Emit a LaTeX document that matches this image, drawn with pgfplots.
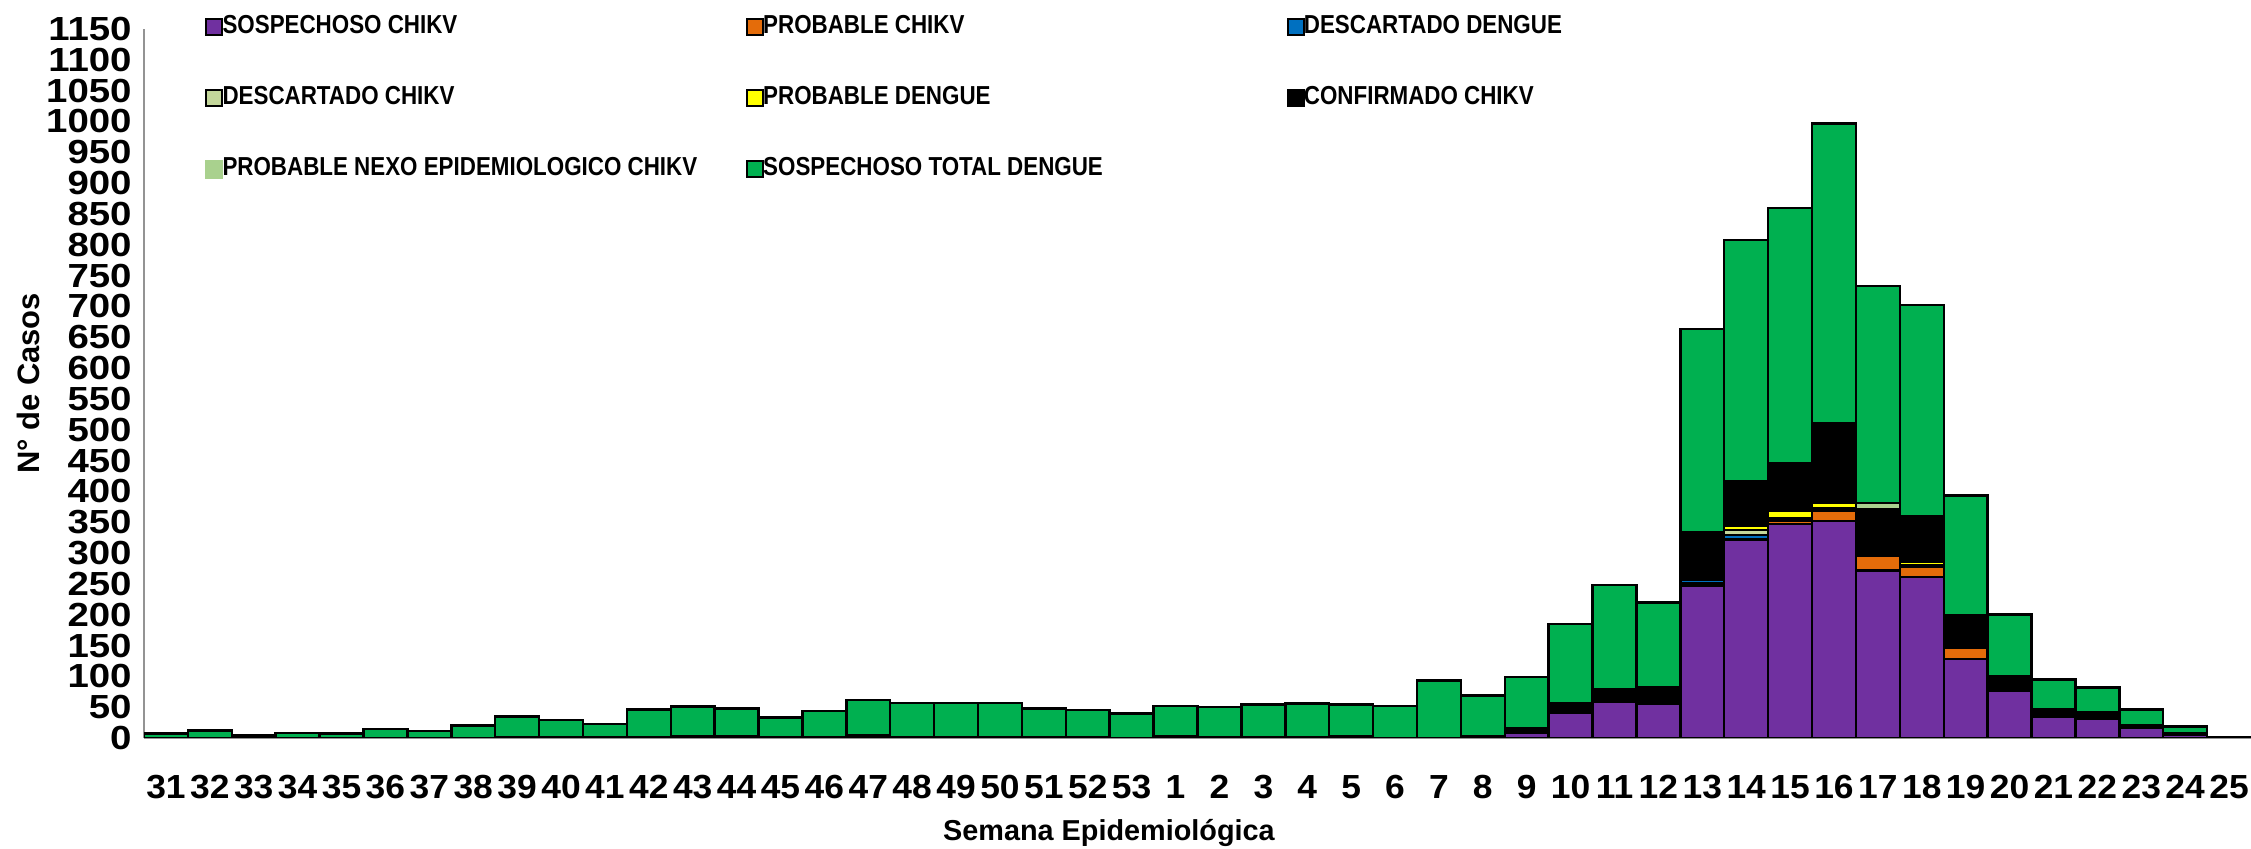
\documentclass[border=0pt]{standalone}
\usepackage{fontspec}
\setmainfont{Liberation Sans}
\newfontfamily\ytickfont{Liberation Sans}[FakeStretch=1.15]
\newfontfamily\xtickfont{Liberation Sans}[FakeStretch=1.06]
\newfontfamily\legfont{Liberation Sans}[FakeStretch=0.86]
\usepackage{pgfplots}
\usepackage{pgfplotstable}
\pgfplotsset{compat=1.18}

\definecolor{cP}{HTML}{7030A0}
\definecolor{cO}{HTML}{E46C0A}
\definecolor{cB}{HTML}{0070C0}
\definecolor{cDC}{HTML}{C4D79B}
\definecolor{cY}{HTML}{FFFF00}
\definecolor{cK}{HTML}{000000}
\definecolor{cN}{HTML}{A9D18E}
\definecolor{cG}{HTML}{00B050}

\newcommand{\legtxt}[1]{\makebox[52.1mm][l]{\hspace{-0.15mm}#1}}

\pgfplotstableread{
x  P   O  B   DC  Y  K   N  G
0  0   0  0   0   0  0   0  7
1  0   0  0   0   0  0   0  12
2  0   0  0   0   0  0   0  4
3  0   0  0   0   0  0   0  8
4  0   0  0   0   0  0   0  7
5  0   0  0   0   0  0   0  15
6  0   0  0   0   0  0   0  11
7  0   0  0   0   0  0   0  20
8  0   0  0   0   0  2   0  33
9  0   0  0   0   0  1   0  28
10 0   0  0   0   0  1   0  22
11 0   0  0   0   0  1   0  45
12 0   0  0   0   2  1   0  48
13 0   0  0   0   0  3   0  45
14 0   0  0   0   0  1   0  32
15 0   0  0   0   0  1   0  43
16 0   0  1   0   0  3   0  58
17 0   0  0   0   0  1   0  56
18 0   0  0   0   0  2   0  55
19 0   0  0   0   0  1   0  56
20 0   0  0   0   0  1   0  47
21 0   0  0   0   0  2   0  43
22 0   0  0   0   0  0   0  40
23 0   0  0   0   0  3   0  49
24 0   0  0   0   0  1   0  49
25 0   0  0   0   0  2   0  52
26 0   0  0   0   0  2   0  54
27 0   0  0   0   0  3   0  51
28 0   0  0   0   0  0   0  52
29 0   0  0   0   0  0   0  93
30 0   0  0   0   0  3   0  66
31 8   0  0   0   0  8   0  83
32 41  0  4   0   0  11  0  129
33 58  0  3   1   4  13  0  169
34 55  1  2   0   4  20  0  138
35 247 4  6   5   5  65  2  329
36 322 1  6   8   8  70  2  391
37 347 6  2   2   12 77  0  414
38 352 16 2.5 2.5 8  127 3  486
39 272 23 0   0   1  75  10 352
40 261 16 2   2   5  73  0  343
41 128 18 1   0   0  52  0  194
42 76  2  0   0   0  22  0  100
43 35  3  0   0   0  9   0  48
44 31  0  0   0   0  11  0  40
45 17  0  0   0   0  4   0  25
46 5   0  0   0   0  3   0  11
47 0   0  0   0   0  1   0  1
}\data

\begin{document}
\begin{tikzpicture}
\begin{axis}[
  scale only axis, width=21.07cm, height=7.09cm,
  xmin=-0.5, xmax=47.5, ymin=0, ymax=1150,
  ybar stacked, bar width=1,
  axis x line*=bottom, axis y line*=left,
  axis line style={draw=gray!85, line width=0.8pt},
  ytick={0,50,...,1150},
  ytick style={draw=none},
  xtick={0,...,47},
  xticklabels={31,32,33,34,35,36,37,38,39,40,41,42,43,44,45,46,47,48,49,50,51,52,53,1,2,3,4,5,6,7,8,9,10,11,12,13,14,15,16,17,18,19,20,21,22,23,24,25},
  xtick style={draw=none},
  extra x ticks={-0.5,0.5,...,47.5},
  extra x tick labels={},
  extra x tick style={tick style={draw=gray, line width=0.5pt}, major tick length=0.7mm, tick align=outside},
  /pgf/number format/assume math mode=true,
  /pgf/number format/1000 sep={},
  yticklabel style={font=\ytickfont\bfseries\fontsize{9.5}{11}\selectfont},
  xticklabel style={font=\xtickfont\bfseries\fontsize{9.5}{11}\selectfont, anchor=center, yshift=-4.9mm},
  xlabel={Semana Epidemiológica},
  ylabel={N° de Casos},
  xlabel style={font=\bfseries\fontsize{8.2}{10}\selectfont, at={(axis description cs:0.458,0)}, anchor=center, yshift=-9.5mm},
  ylabel style={font=\bfseries\fontsize{8.8}{10}\selectfont, at={(axis description cs:0,0.5)}, anchor=center, yshift=11.6mm},
  legend columns=3,
  legend cell align=left,
  legend style={at={(rel axis cs:0.0235,1.031)}, anchor=north west, draw=none, fill=none,
    font=\legfont\bfseries\fontsize{7.4}{8.5}\selectfont, row sep=4.6mm, nodes={inner sep=0.08mm}},
  legend image code/.code={\draw[#1, draw=black, line width=0.6pt] (0mm,-0.8mm) rectangle (1.6mm,0.8mm);},
]
\addplot[fill=cP, draw=black, line width=0.7pt] table[x=x, y=P]{\data};
\addlegendentry{\legtxt{SOSPECHOSO CHIKV}}
\addplot[fill=cO, draw=black, line width=0.7pt] table[x=x, y=O]{\data};
\addlegendentry{\legtxt{PROBABLE CHIKV}}
\addplot[fill=cB, draw=black, line width=0.7pt] table[x=x, y=B]{\data};
\addlegendentry{\legtxt{DESCARTADO DENGUE}}
\addplot[fill=cDC, draw=black, line width=0.7pt] table[x=x, y=DC]{\data};
\addlegendentry{\legtxt{DESCARTADO CHIKV}}
\addplot[fill=cY, draw=black, line width=0.7pt] table[x=x, y=Y]{\data};
\addlegendentry{\legtxt{PROBABLE DENGUE}}
\addplot[fill=cK, draw=black, line width=0.7pt] table[x=x, y=K]{\data};
\addlegendentry{\legtxt{CONFIRMADO CHIKV}}
\addplot[fill=cN, draw=black, line width=0.7pt, /pgfplots/legend image code/.code={\draw[fill=cN, draw=cN] (0mm,-0.8mm) rectangle (1.6mm,0.8mm);}] table[x=x, y=N]{\data};
\addlegendentry{\legtxt{PROBABLE NEXO EPIDEMIOLOGICO CHIKV}}
\addplot[fill=cG, draw=black, line width=0.7pt] table[x=x, y=G]{\data};
\addlegendentry{\legtxt{SOSPECHOSO TOTAL DENGUE}}
\end{axis}
\pgfresetboundingbox
\path[use as bounding box] (-1.44cm,-1.11cm) rectangle (21.07cm,7.38cm);
\end{tikzpicture}
\end{document}
